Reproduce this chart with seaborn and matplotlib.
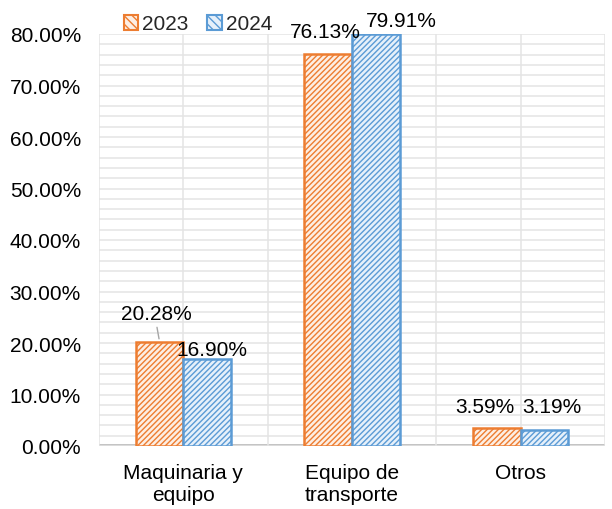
import matplotlib
matplotlib.use("Agg")
import matplotlib.pyplot as plt
import seaborn as sns
import pandas as pd
import numpy as np
from matplotlib.patches import Patch

categories = ["Maquinaria y\nequipo", "Equipo de\ntransporte", "Otros"]
years = ["2023", "2024"]
values_2023 = [20.28, 76.13, 3.59]
values_2024 = [16.90, 79.91, 3.19]

df = pd.DataFrame({
    "categoria": categories * 2,
    "anio": [years[0]] * 3 + [years[1]] * 3,
    "valor": values_2023 + values_2024,
})

sns.set_style("white")
plt.rcParams["font.family"] = ["Liberation Sans", "DejaVu Sans"]
plt.rcParams["hatch.linewidth"] = 1.0

colors = {"2023": "#ED7D31", "2024": "#5B9BD5"}
fills = {"2023": "#FDEEE3", "2024": "#E6F0FA"}
FS = 15

fig = plt.figure(figsize=(6.12, 5.1), dpi=100)
ax = fig.add_axes([99 / 612, 63 / 510, 506 / 612, 412 / 510])

sns.barplot(data=df, x="categoria", y="valor", hue="anio", ax=ax,
            width=0.565, gap=0, legend=False, palette=colors)

# hatched bars with light fill and coloured edge
for container, yr in zip(ax.containers, years):
    for bar in container:
        bar.set_facecolor(fills[yr])
        bar.set_edgecolor(colors[yr])
        bar.set_hatch("//////")
        bar.set_linewidth(1.8)

ax.set_ylim(0, 80)
ax.set_xlim(-0.5, 2.45)
ticks = np.arange(0, 81, 10)
ax.set_yticks(ticks)
ax.set_yticklabels([f"{v:.2f}%" for v in ticks], fontsize=FS, color="black")
ax.set_yticks(np.arange(0, 81, 2), minor=True)
ax.set_xticks(np.arange(-0.5, 2.6, 0.5), minor=True)
ax.tick_params(axis="x", labelsize=FS, labelcolor="black", length=0, pad=12)
ax.tick_params(axis="y", length=0, which="both", pad=13)
ax.grid(True, which="both", color="#E4E4E4", linewidth=1.1)
ax.set_axisbelow(True)
ax.set_xlabel("")
ax.set_ylabel("")
for s in ax.spines.values():
    s.set_visible(False)
ax.axhline(0, color="#C0C0C0", linewidth=3.5, zorder=0.5)

# data labels, offsets in pixels (dx, dy of label centre from bar top centre)
offs_2023 = [(-3, 28), (-3, 22), (-12, 21)]
offs_2024 = [(5, 9), (25, 14), (7, 23)]
px = 72 / 100
for cont, vals, offs in zip(ax.containers, [values_2023, values_2024],
                            [offs_2023, offs_2024]):
    for bar, v, (dx, dy) in zip(cont, vals, offs):
        x = bar.get_x() + bar.get_width() / 2
        ax.annotate(f"{v:.2f}%", (x, v), xytext=(dx * px, dy * px),
                    textcoords="offset points", ha="center", va="center",
                    fontsize=FS, color="black", zorder=5)

# leader line for the first label
b0 = ax.containers[0][0]
xc = b0.get_x() + b0.get_width() / 2
ax.annotate("", (xc, values_2023[0]), xytext=(-3 * px, 17 * px),
            textcoords="offset points",
            arrowprops=dict(arrowstyle="-", color="#A6A6A6", lw=1))

handles = [Patch(facecolor=fills[y], edgecolor=colors[y], hatch="\\\\\\\\", label=y,
                 linewidth=1.5)
           for y in years]
fig.legend(handles=handles, loc="center", bbox_to_anchor=(198 / 612, 1 - 25 / 510),
           ncol=2, frameon=False, fontsize=FS, handlelength=0.7, handleheight=0.7,
           handletextpad=0.2, columnspacing=0.9)

fig.savefig("out.png", dpi=100)
